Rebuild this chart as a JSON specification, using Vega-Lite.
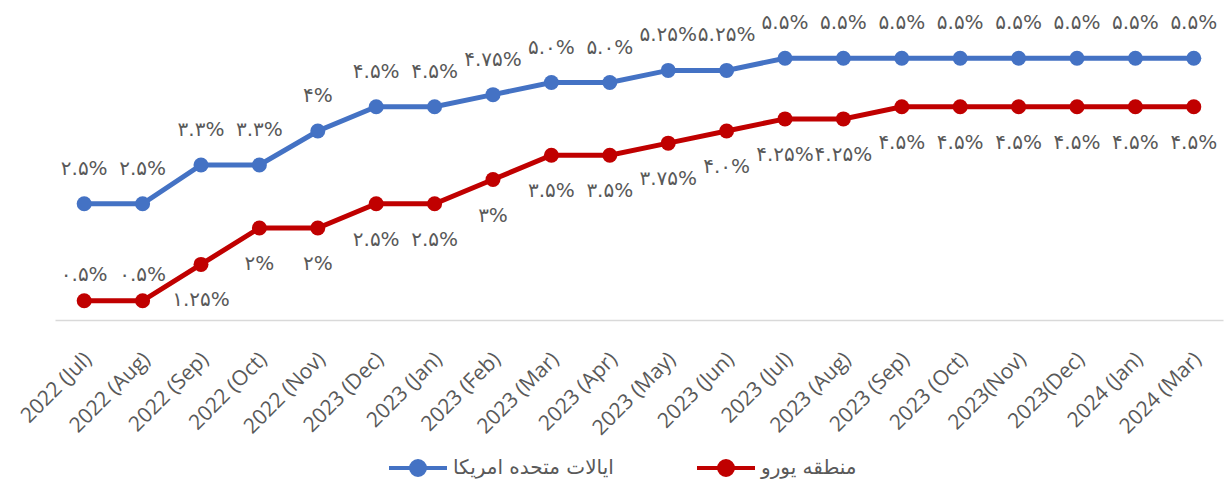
{
  "$schema": "https://vega.github.io/schema/vega-lite/v6.json",
  "width": 1168,
  "height": 291,
  "autosize": {"type": "none"},
  "padding": {"left": 55, "top": 34, "right": 5, "bottom": 154},
  "background": "white",
  "config": {"view": {"stroke": null}, "font": "Open Sans"},
  "data": {
    "values": [
      {"month": "2022 (Jul)", "series": "ایالات متحده امریکا", "rate": 2.5, "label": "۲.۵%"},
      {"month": "2022 (Aug)", "series": "ایالات متحده امریکا", "rate": 2.5, "label": "۲.۵%"},
      {"month": "2022 (Sep)", "series": "ایالات متحده امریکا", "rate": 3.3, "label": "۳.۳%"},
      {"month": "2022 (Oct)", "series": "ایالات متحده امریکا", "rate": 3.3, "label": "۳.۳%"},
      {"month": "2022 (Nov)", "series": "ایالات متحده امریکا", "rate": 4.0, "label": "۴%"},
      {"month": "2023 (Dec)", "series": "ایالات متحده امریکا", "rate": 4.5, "label": "۴.۵%"},
      {"month": "2023 (Jan)", "series": "ایالات متحده امریکا", "rate": 4.5, "label": "۴.۵%"},
      {"month": "2023 (Feb)", "series": "ایالات متحده امریکا", "rate": 4.75, "label": "۴.۷۵%"},
      {"month": "2023 (Mar)", "series": "ایالات متحده امریکا", "rate": 5.0, "label": "۵.۰%"},
      {"month": "2023 (Apr)", "series": "ایالات متحده امریکا", "rate": 5.0, "label": "۵.۰%"},
      {"month": "2023 (May)", "series": "ایالات متحده امریکا", "rate": 5.25, "label": "۵.۲۵%"},
      {"month": "2023 (Jun)", "series": "ایالات متحده امریکا", "rate": 5.25, "label": "۵.۲۵%"},
      {"month": "2023 (Jul)", "series": "ایالات متحده امریکا", "rate": 5.5, "label": "۵.۵%"},
      {"month": "2023 (Aug)", "series": "ایالات متحده امریکا", "rate": 5.5, "label": "۵.۵%"},
      {"month": "2023 (Sep)", "series": "ایالات متحده امریکا", "rate": 5.5, "label": "۵.۵%"},
      {"month": "2023 (Oct)", "series": "ایالات متحده امریکا", "rate": 5.5, "label": "۵.۵%"},
      {"month": "2023(Nov)", "series": "ایالات متحده امریکا", "rate": 5.5, "label": "۵.۵%"},
      {"month": "2023(Dec)", "series": "ایالات متحده امریکا", "rate": 5.5, "label": "۵.۵%"},
      {"month": "2024 (Jan)", "series": "ایالات متحده امریکا", "rate": 5.5, "label": "۵.۵%"},
      {"month": "2024 (Mar)", "series": "ایالات متحده امریکا", "rate": 5.5, "label": "۵.۵%"},
      {"month": "2022 (Jul)", "series": "منطقه یورو", "rate": 0.5, "label": "۰.۵%"},
      {"month": "2022 (Aug)", "series": "منطقه یورو", "rate": 0.5, "label": "۰.۵%"},
      {"month": "2022 (Sep)", "series": "منطقه یورو", "rate": 1.25, "label": "۱.۲۵%"},
      {"month": "2022 (Oct)", "series": "منطقه یورو", "rate": 2.0, "label": "۲%"},
      {"month": "2022 (Nov)", "series": "منطقه یورو", "rate": 2.0, "label": "۲%"},
      {"month": "2023 (Dec)", "series": "منطقه یورو", "rate": 2.5, "label": "۲.۵%"},
      {"month": "2023 (Jan)", "series": "منطقه یورو", "rate": 2.5, "label": "۲.۵%"},
      {"month": "2023 (Feb)", "series": "منطقه یورو", "rate": 3.0, "label": "۳%"},
      {"month": "2023 (Mar)", "series": "منطقه یورو", "rate": 3.5, "label": "۳.۵%"},
      {"month": "2023 (Apr)", "series": "منطقه یورو", "rate": 3.5, "label": "۳.۵%"},
      {"month": "2023 (May)", "series": "منطقه یورو", "rate": 3.75, "label": "۳.۷۵%"},
      {"month": "2023 (Jun)", "series": "منطقه یورو", "rate": 4.0, "label": "۴.۰%"},
      {"month": "2023 (Jul)", "series": "منطقه یورو", "rate": 4.25, "label": "۴.۲۵%"},
      {"month": "2023 (Aug)", "series": "منطقه یورو", "rate": 4.25, "label": "۴.۲۵%"},
      {"month": "2023 (Sep)", "series": "منطقه یورو", "rate": 4.5, "label": "۴.۵%"},
      {"month": "2023 (Oct)", "series": "منطقه یورو", "rate": 4.5, "label": "۴.۵%"},
      {"month": "2023(Nov)", "series": "منطقه یورو", "rate": 4.5, "label": "۴.۵%"},
      {"month": "2023(Dec)", "series": "منطقه یورو", "rate": 4.5, "label": "۴.۵%"},
      {"month": "2024 (Jan)", "series": "منطقه یورو", "rate": 4.5, "label": "۴.۵%"},
      {"month": "2024 (Mar)", "series": "منطقه یورو", "rate": 4.5, "label": "۴.۵%"}
    ]
  },
  "encoding": {
    "x": {
      "field": "month",
      "type": "ordinal",
      "sort": null,
      "scale": {"type": "point", "padding": 0.5},
      "axis": {
        "title": null,
        "offset": -5,
        "ticks": false,
        "domainColor": "#d9d9d9",
        "domainWidth": 1.5,
        "labelAngle": -45,
        "labelFont": "Open Sans",
        "labelFontSize": 21,
        "labelColor": "#595959",
        "labelPadding": 28,
        "labelOffset": -4
      }
    },
    "y": {
      "field": "rate",
      "type": "quantitative",
      "scale": {"domain": [0, 6]},
      "axis": null
    }
  },
  "layer": [
    {
      "mark": {"type": "line", "strokeWidth": 5},
      "encoding": {
        "color": {
          "field": "series",
          "type": "nominal",
          "scale": {"domain": ["ایالات متحده امریکا", "منطقه یورو"], "range": ["#4472C4", "#C00000"]},
          "legend": {
            "orient": "none",
            "legendX": 332,
            "legendY": 403,
            "direction": "horizontal",
            "title": null,
            "symbolType": "M-1,0H1M-0.24,0A0.24,0.24,0,1,0,0.24,0A0.24,0.24,0,1,0,-0.24,0Z",
            "symbolSize": 3364,
            "symbolStrokeWidth": 4,
            "labelFont": "DejaVu Sans",
            "labelFontSize": 20,
            "labelColor": "#595959",
            "labelOffset": 4,
            "labelLimit": 400,
            "columnPadding": 75,
            "encode": {
              "symbols": {
                "update": {
                  "fill": {"scale": "color", "field": "value"},
                  "stroke": {"scale": "color", "field": "value"},
                  "opacity": {"value": 1}
                }
              }
            }
          }
        }
      }
    },
    {
      "mark": {"type": "point", "filled": true, "size": 225, "opacity": 1},
      "encoding": {
        "color": {"field": "series", "type": "nominal", "legend": null}
      }
    },
    {
      "transform": [{"filter": "datum.series === 'ایالات متحده امریکا'"}],
      "mark": {"type": "text", "dy": -35, "font": "DejaVu Sans", "fontSize": 20, "color": "#595959"},
      "encoding": {"text": {"field": "label"}}
    },
    {
      "transform": [{"filter": "datum.series === 'منطقه یورو' && (datum.month === '2022 (Jul)' || datum.month === '2022 (Aug)')"}],
      "mark": {"type": "text", "dy": -26, "font": "DejaVu Sans", "fontSize": 20, "color": "#595959"},
      "encoding": {"text": {"field": "label"}}
    },
    {
      "transform": [{"filter": "datum.series === 'منطقه یورو' && datum.month !== '2022 (Jul)' && datum.month !== '2022 (Aug)'"}],
      "mark": {"type": "text", "dy": 36, "font": "DejaVu Sans", "fontSize": 20, "color": "#595959"},
      "encoding": {"text": {"field": "label"}}
    }
  ]
}
